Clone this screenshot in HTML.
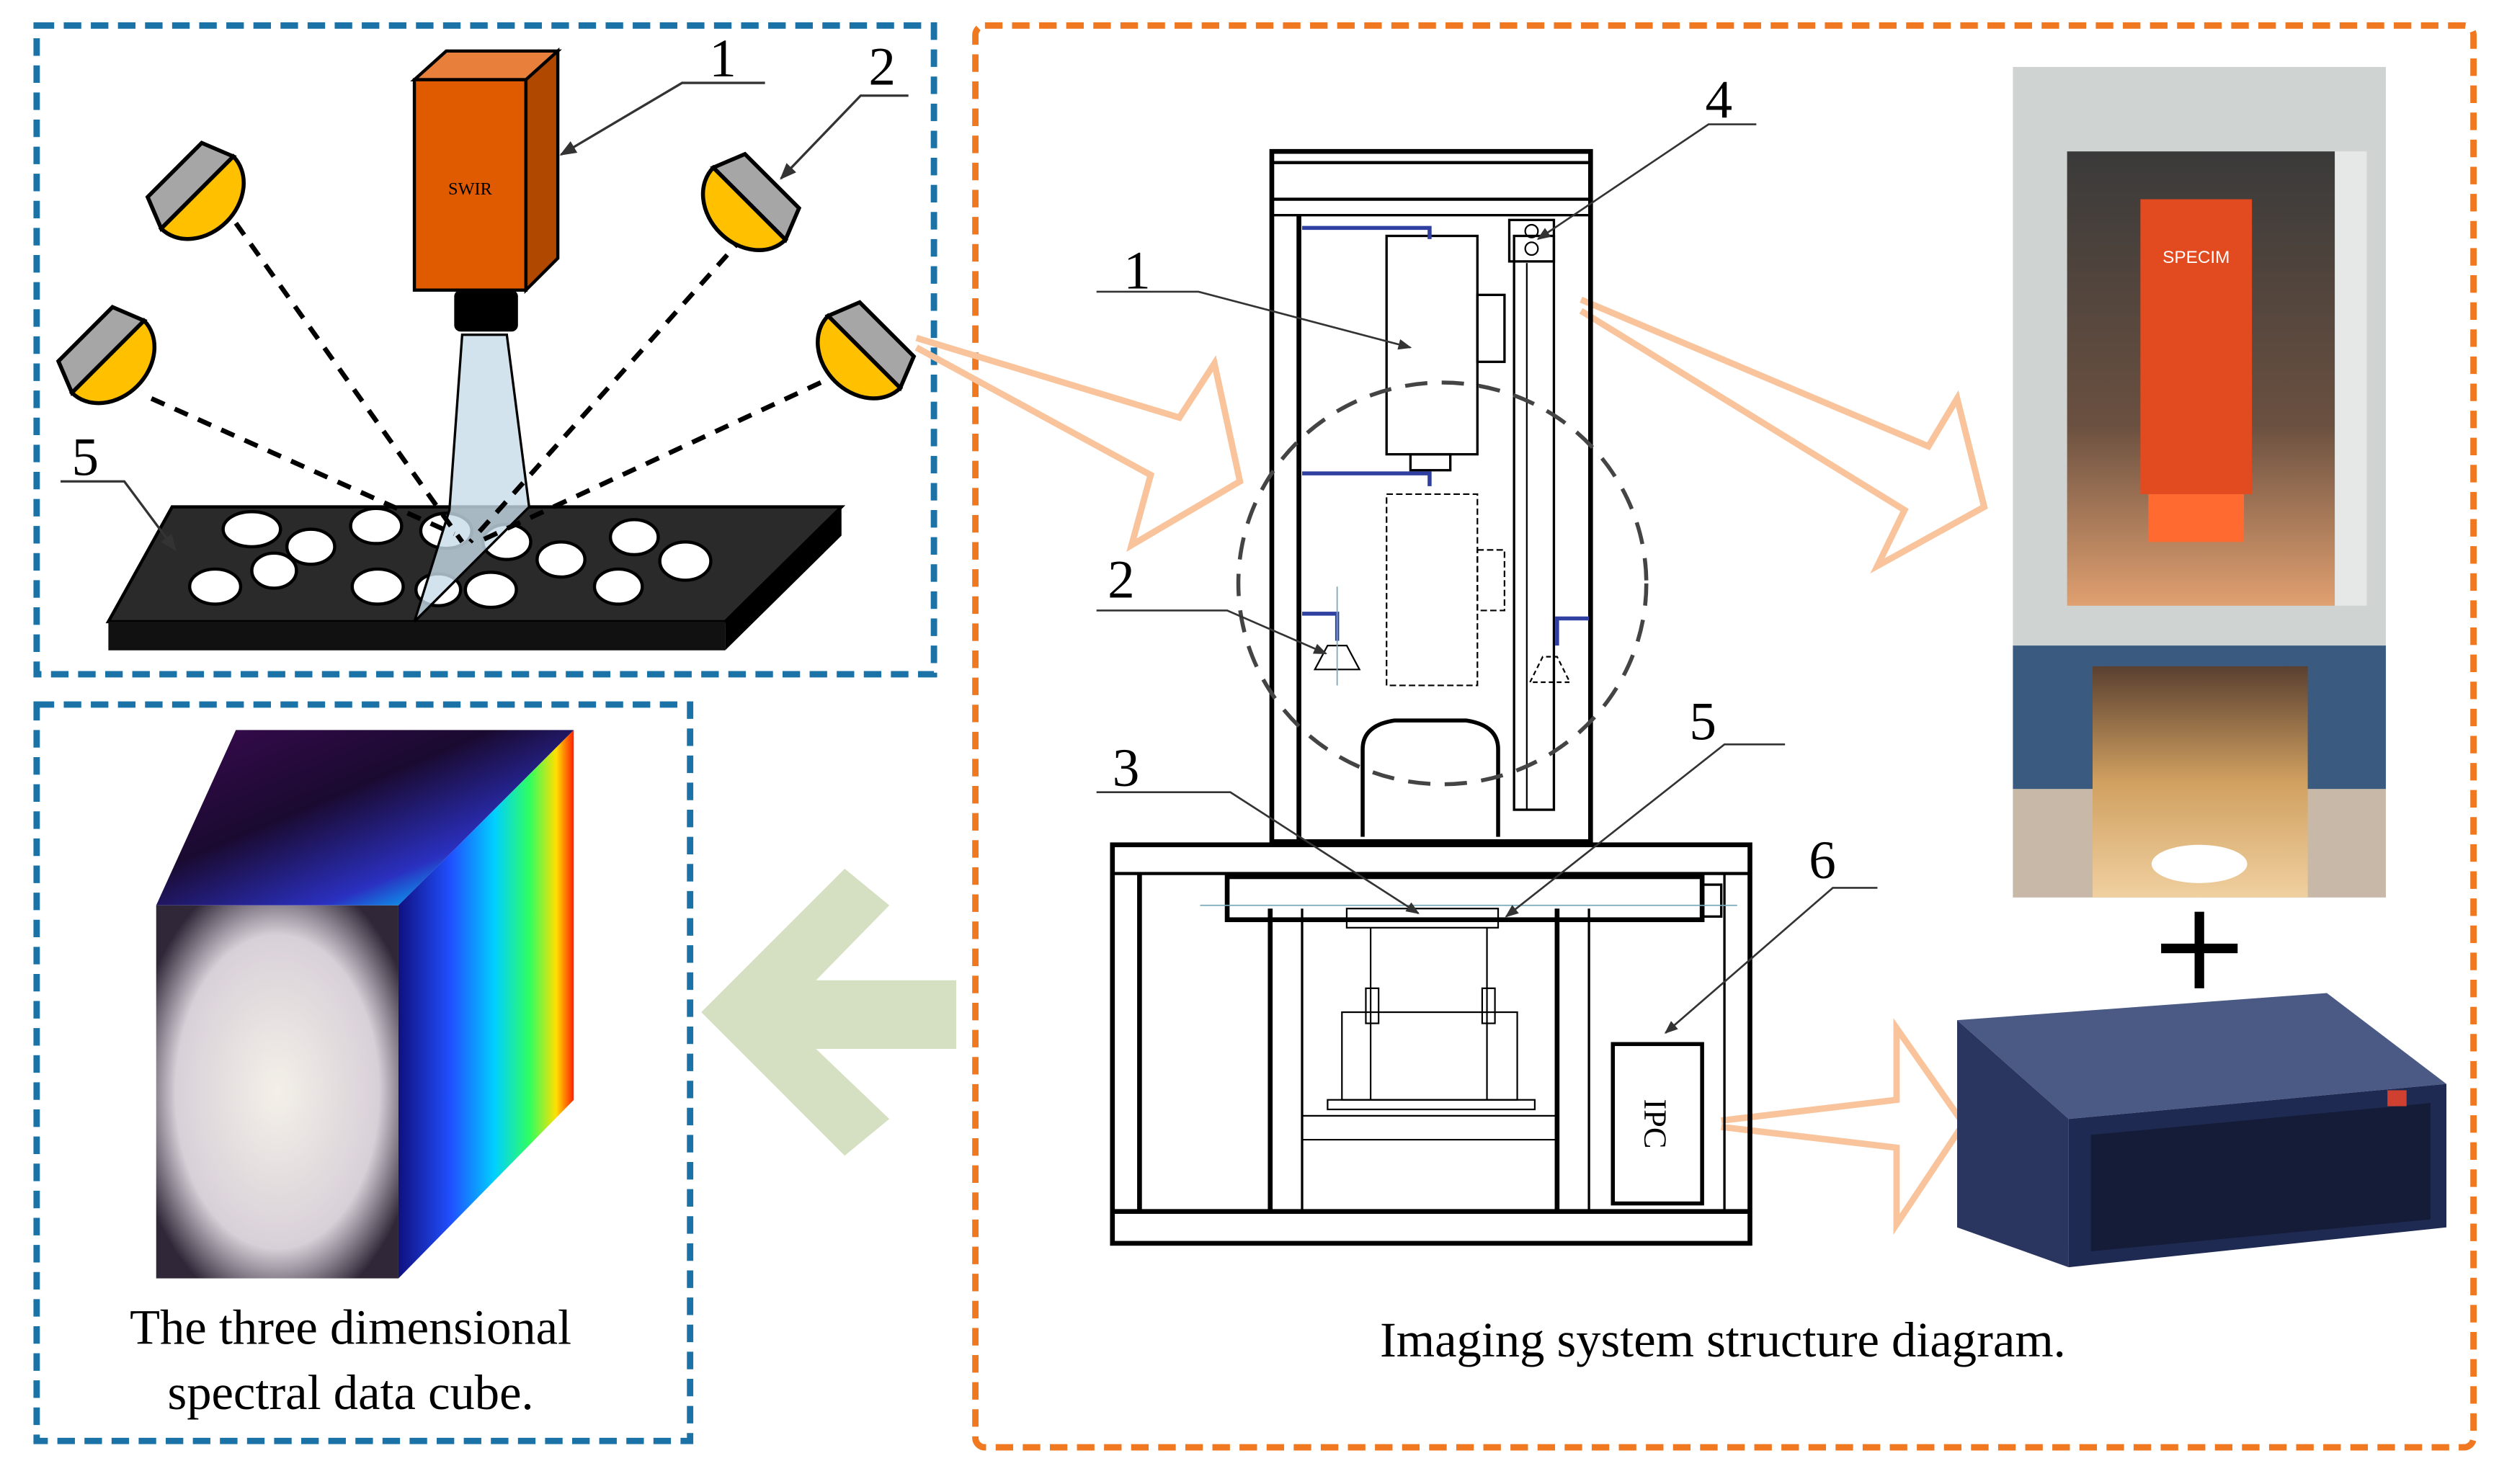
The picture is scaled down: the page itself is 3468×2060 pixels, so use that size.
<!DOCTYPE html>
<html><head><meta charset="utf-8"><style>html,body{margin:0;padding:0;background:#fff}svg{display:block}</style></head>
<body>
<svg width="3468" height="2060" viewBox="0 0 1568 931" preserveAspectRatio="none" xmlns="http://www.w3.org/2000/svg" font-family="Liberation Serif, serif">
<defs>
<linearGradient id="cubeTop" x1="0" y1="0" x2="1" y2="1"><stop offset="0" stop-color="#3a0a50"/><stop offset="0.4" stop-color="#1a0a30"/><stop offset="0.7" stop-color="#2a30c0"/><stop offset="0.85" stop-color="#00c0ff"/><stop offset="1" stop-color="#20ff40"/></linearGradient>
<linearGradient id="cubeSide" x1="0" y1="0" x2="1" y2="0"><stop offset="0" stop-color="#101080"/><stop offset="0.3" stop-color="#2050ff"/><stop offset="0.55" stop-color="#00d0ff"/><stop offset="0.75" stop-color="#30ff60"/><stop offset="0.9" stop-color="#ffe000"/><stop offset="1" stop-color="#ff2000"/></linearGradient>
<radialGradient id="cotton" cx="0.5" cy="0.5" r="0.6"><stop offset="0" stop-color="#f4f0e8"/><stop offset="0.7" stop-color="#d8d0d8"/><stop offset="1" stop-color="#302838"/></radialGradient>
<linearGradient id="inner" x1="0" y1="0" x2="0" y2="1"><stop offset="0" stop-color="#3a3a3a"/><stop offset="0.6" stop-color="#6a5040"/><stop offset="1" stop-color="#e0a070"/></linearGradient>
<linearGradient id="tray" x1="0" y1="0" x2="0" y2="1"><stop offset="0" stop-color="#5a4030"/><stop offset="0.5" stop-color="#d0a060"/><stop offset="1" stop-color="#f0d0a0"/></linearGradient>
<marker id="ah" viewBox="0 0 10 10" refX="9" refY="5" markerWidth="7" markerHeight="7" orient="auto"><path d="M0,1 L10,5 L0,9 Z" fill="#333"/></marker>
</defs>

<rect x="23" y="16" width="563" height="407" fill="none" stroke="#1a72a6" stroke-width="4" stroke-dasharray="11,6"/>
<rect x="23" y="442" width="410" height="462" fill="none" stroke="#1a72a6" stroke-width="4" stroke-dasharray="11,6"/>
<rect x="612" y="16" width="940" height="892" rx="6" fill="none" stroke="#f07820" stroke-width="4" stroke-dasharray="11,6"/>

<polygon points="68,390 108,318 528,318 455,390" fill="#2a2a2a" stroke="#000" stroke-width="2"/>
<polygon points="68,390 455,390 455,408 68,408" fill="#111"/>
<polygon points="455,390 528,318 528,336 455,408" fill="#000"/>
<g fill="#fff" stroke="#000" stroke-width="2">
<ellipse cx="158" cy="332" rx="18" ry="11"/><ellipse cx="195" cy="343" rx="15" ry="11"/><ellipse cx="236" cy="330" rx="16" ry="11"/>
<ellipse cx="280" cy="333" rx="16" ry="11"/><ellipse cx="318" cy="340" rx="15" ry="11"/><ellipse cx="352" cy="351" rx="15" ry="11"/>
<ellipse cx="398" cy="337" rx="15" ry="11"/><ellipse cx="430" cy="352" rx="16" ry="12"/><ellipse cx="135" cy="368" rx="16" ry="11"/>
<ellipse cx="172" cy="358" rx="14" ry="11"/><ellipse cx="237" cy="368" rx="16" ry="11"/><ellipse cx="275" cy="370" rx="14" ry="10"/>
<ellipse cx="308" cy="370" rx="16" ry="11"/><ellipse cx="388" cy="368" rx="15" ry="11"/>
</g>
<polygon points="290,210 318,210 332,318 260,390 282,320" fill="#c8dcea" fill-opacity="0.8" stroke="#000" stroke-width="1.5"/>
<g stroke="#000" stroke-width="3" stroke-dasharray="9,7" fill="none">
<line x1="148" y1="140" x2="290" y2="340"/><line x1="95" y1="250" x2="285" y2="335"/>
<line x1="467" y1="148" x2="295" y2="340"/><line x1="515" y1="240" x2="300" y2="340"/>
</g>
<polygon points="260,50 280,32 350,32 330,50" fill="#e8803c" stroke="#000" stroke-width="2"/>
<rect x="260" y="50" width="70" height="132" fill="#e05a00" stroke="#000" stroke-width="2"/>
<polygon points="330,50 350,32 350,162 330,182" fill="#b04800" stroke="#000" stroke-width="2"/>
<rect x="285" y="182" width="40" height="26" rx="4" fill="#000"/>
<text x="295" y="122" font-size="11" text-anchor="middle">SWIR</text>
<g stroke="#000" stroke-width="2.5">
<g transform="translate(128,125) rotate(-45)"><path d="M-32,-6 A32,26 0 0 0 32,-6 Z" fill="#ffc000"/><polygon points="-32,-6 32,-6 24,-26 -24,-26" fill="#a6a6a6"/></g>
<g transform="translate(72,228) rotate(-45)"><path d="M-32,-6 A32,26 0 0 0 32,-6 Z" fill="#ffc000"/><polygon points="-32,-6 32,-6 24,-26 -24,-26" fill="#a6a6a6"/></g>
<g transform="translate(466,132) rotate(45)"><path d="M-32,-6 A32,26 0 0 0 32,-6 Z" fill="#ffc000"/><polygon points="-32,-6 32,-6 24,-26 -24,-26" fill="#a6a6a6"/></g>
<g transform="translate(538,225) rotate(45)"><path d="M-32,-6 A32,26 0 0 0 32,-6 Z" fill="#ffc000"/><polygon points="-32,-6 32,-6 24,-26 -24,-26" fill="#a6a6a6"/></g>
</g>
<g stroke="#333" stroke-width="1.5" fill="none">
<polyline points="480,52 428,52 352,97" marker-end="url(#ah)"/>
<polyline points="570,60 540,60 490,112" marker-end="url(#ah)"/>
<polyline points="38,302 78,302 110,345" marker-end="url(#ah)"/>
</g>
<text x="445" y="48" font-size="34">1</text>
<text x="545" y="53" font-size="34">2</text>
<text x="45" y="298" font-size="34">5</text>

<polygon points="98,568 148,458 360,458 250,568" fill="url(#cubeTop)"/>
<polygon points="250,568 360,458 360,690 250,802" fill="url(#cubeSide)"/>
<rect x="98" y="568" width="152" height="234" fill="url(#cotton)"/>
<text x="220" y="843" font-size="31" text-anchor="middle">The three dimensional</text>
<text x="220" y="884" font-size="31" text-anchor="middle">spectral data cube.</text>

<polygon points="440,635 530,545 558,568 512,615 600,615 600,658 512,658 558,702 530,725" fill="#d5e0c2"/>

<g fill="none" stroke="#f9c49b" stroke-width="4">
<polyline points="575,212 740,262 762,228 778,302 710,342 722,298 575,218"/>
<polyline points="992,188 1210,280 1228,250 1245,318 1178,355 1195,320 992,195"/>
<polyline points="1080,703 1190,690 1190,645 1232,705 1190,768 1190,720 1080,707"/>
</g>

<g stroke="#000" fill="none">
<rect x="798" y="95" width="200" height="433" stroke-width="3"/>
<line x1="798" y1="102" x2="998" y2="102" stroke-width="2"/>
<line x1="798" y1="125" x2="998" y2="125" stroke-width="2"/>
<line x1="798" y1="135" x2="998" y2="135" stroke-width="1.5"/>
<line x1="815" y1="135" x2="815" y2="528" stroke-width="3"/>
<rect x="870" y="148" width="57" height="137" stroke-width="1.5"/>
<rect x="927" y="185" width="17" height="42" stroke-width="1.5"/>
<rect x="885" y="285" width="25" height="10" stroke-width="1.5"/>
<rect x="870" y="310" width="57" height="120" stroke-width="1" stroke-dasharray="4,2"/>
<rect x="927" y="345" width="17" height="38" stroke-width="1" stroke-dasharray="4,2"/>
<path d="M855,525 L855,470 Q855,455 875,452 L920,452 Q940,455 940,470 L940,525" stroke-width="2.5"/>
<rect x="950" y="148" width="25" height="360" stroke-width="1.5"/>
<line x1="958" y1="165" x2="958" y2="508" stroke-width="1"/>
<rect x="947" y="138" width="28" height="26" stroke-width="1.5"/>
<circle cx="961" cy="145" r="4"/><circle cx="961" cy="156" r="4"/>
<ellipse cx="905" cy="366" rx="128" ry="126" stroke="#444" stroke-width="2.5" stroke-dasharray="14,9"/>
<path d="M825,420 L833,405 L845,405 L853,420 Z" stroke-width="1"/>
<path d="M960,428 L968,412 L977,412 L985,428 Z" stroke-width="1" stroke-dasharray="3,2"/>
<rect x="698" y="530" width="400" height="250" stroke-width="3"/>
<line x1="698" y1="548" x2="1098" y2="548" stroke-width="2"/>
<line x1="698" y1="760" x2="1098" y2="760" stroke-width="3"/>
<line x1="715" y1="548" x2="715" y2="760" stroke-width="3"/>
<line x1="797" y1="570" x2="797" y2="760" stroke-width="3"/>
<line x1="817" y1="570" x2="817" y2="760" stroke-width="1.5"/>
<line x1="977" y1="570" x2="977" y2="760" stroke-width="3"/>
<line x1="997" y1="570" x2="997" y2="760" stroke-width="1.5"/>
<line x1="1082" y1="548" x2="1082" y2="760" stroke-width="1.5"/>
<rect x="770" y="550" width="298" height="27" stroke-width="3"/>
<rect x="1068" y="555" width="12" height="20" stroke-width="1.5"/>
<rect x="845" y="570" width="95" height="12" stroke-width="1"/>
<line x1="860" y1="582" x2="860" y2="690" stroke-width="1"/><line x1="933" y1="582" x2="933" y2="690" stroke-width="1"/>
<rect x="857" y="620" width="8" height="22" stroke-width="1"/><rect x="930" y="620" width="8" height="22" stroke-width="1"/>
<rect x="842" y="635" width="110" height="55" stroke-width="1"/>
<rect x="833" y="690" width="130" height="6" stroke-width="1"/>
<line x1="817" y1="700" x2="977" y2="700" stroke-width="1"/>
<line x1="817" y1="715" x2="977" y2="715" stroke-width="1"/>
<rect x="1012" y="655" width="56" height="100" stroke-width="2.5"/>
</g>
<g stroke="#3040a0" stroke-width="2.5" fill="none">
<polyline points="817,143 897,143 897,150"/><polyline points="817,297 897,297 897,305"/>
<polyline points="817,385 839,385 839,402"/><polyline points="997,388 977,388 977,405"/>
</g>
<g stroke="#7ab" stroke-width="0.8"><line x1="753" y1="568" x2="1090" y2="568"/><line x1="839" y1="368" x2="839" y2="430"/></g>
<text transform="translate(1032,705) rotate(90)" font-size="20" text-anchor="middle">IPC</text>
<g stroke="#333" stroke-width="1.2" fill="none">
<polyline points="688,183 752,183 885,218" marker-end="url(#ah)"/>
<polyline points="688,383 770,383 832,410" marker-end="url(#ah)"/>
<polyline points="688,497 772,497 890,573" marker-end="url(#ah)"/>
<polyline points="1120,467 1082,467 945,575" marker-end="url(#ah)"/>
<polyline points="1102,78 1072,78 965,150" marker-end="url(#ah)"/>
<polyline points="1178,557 1150,557 1045,648" marker-end="url(#ah)"/>
</g>
<text x="705" y="181" font-size="34">1</text>
<text x="695" y="375" font-size="34">2</text>
<text x="698" y="493" font-size="34">3</text>
<text x="1070" y="74" font-size="34">4</text>
<text x="1060" y="464" font-size="34">5</text>
<text x="1135" y="551" font-size="34">6</text>
<text x="1081" y="851" font-size="31" text-anchor="middle">Imaging system structure diagram.</text>

<rect x="1263" y="42" width="234" height="521" fill="#cfd3d2"/>
<rect x="1297" y="95" width="168" height="285" fill="url(#inner)"/>
<rect x="1465" y="95" width="20" height="285" fill="#e6e8e8"/>
<rect x="1343" y="125" width="70" height="185" fill="#e24a20"/>
<rect x="1348" y="310" width="60" height="30" fill="#ff6a30"/>
<text x="1378" y="165" font-size="11" fill="#fff" text-anchor="middle" font-family="Liberation Sans, sans-serif">SPECIM</text>
<rect x="1263" y="405" width="234" height="90" fill="#3a5a80"/>
<rect x="1263" y="495" width="234" height="68" fill="#c8b8a8"/>
<rect x="1313" y="418" width="135" height="145" fill="url(#tray)"/>
<ellipse cx="1380" cy="542" rx="30" ry="12" fill="#fff"/>
<rect x="1356" y="592" width="48" height="6" fill="#000"/><rect x="1377" y="572" width="6" height="48" fill="#000"/>
<!-- server -->
<polygon points="1228,640 1460,623 1535,680 1298,702" fill="#4a5a85"/>
<polygon points="1228,640 1298,702 1298,795 1228,770" fill="#2a3660"/>
<polygon points="1298,702 1535,680 1535,770 1298,795" fill="#1e2a52"/>
<polygon points="1312,712 1525,692 1525,765 1312,785" fill="#141c38"/>
<rect x="1498" y="684" width="12" height="10" fill="#d04030"/>
</svg>
</body></html>
